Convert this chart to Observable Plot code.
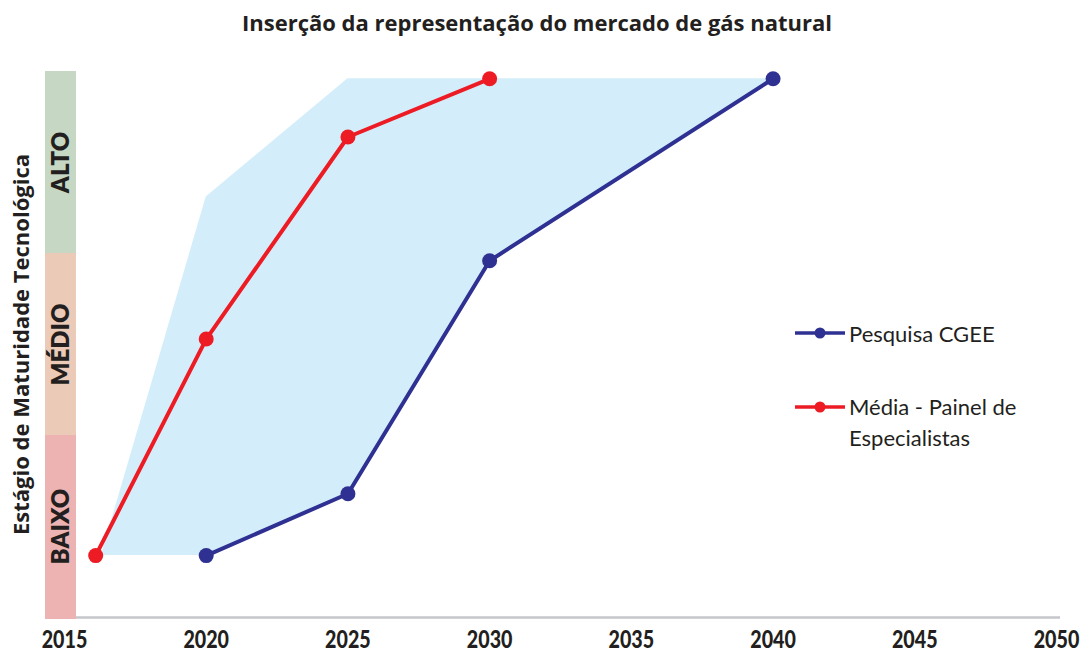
<!DOCTYPE html>
<html><head><meta charset="utf-8">
<script src="https://cdn.jsdelivr.net/npm/d3@7"></script>
<script src="https://cdn.jsdelivr.net/npm/@observablehq/plot@0.6"></script>
<style>
body{margin:0;background:#fff;}
#wrap{position:relative;width:1089px;height:652px;overflow:hidden;background:#fff;}
#title{position:absolute;left:0;top:0;width:1074px;height:44px;text-align:center;font:700 22px 'Open Sans';line-height:44px;color:#231f20;}
#chart{position:absolute;left:0;top:44px;}
.leg{position:absolute;left:795px;display:flex;align-items:flex-start;font:400 22px Lato;line-height:31px;color:#231f20;}
.leg svg{flex:none;margin-right:4px;}
</style></head><body>
<div id="wrap">
<div id="title">Inserção da representação do mercado de gás natural</div>
<div id="chart"></div>
</div>
<script>
// ---- data ----
const tickYears = [2015, 2020, 2025, 2030, 2035, 2040, 2045, 2050];
const bandNames = ["BAIXO", "MÉDIO", "ALTO"];
const bandLow = [0, 1, 2];
const bandHigh = [1, 2, 3];
const bandColors = ["#ecb3b2", "#ebcbb8", "#c6d8c4"];

const seriesNames = ["Pesquisa CGEE", "Média - Painel de Especialistas"];
const seriesColors = ["#2e3192", "#ed1c24"];

const blueYears = [2020, 2025, 2030, 2040];
const blueLevels = [0.34, 0.68, 1.96, 2.96];
const redYears = [2016.1, 2020, 2025, 2030];
const redLevels = [0.34, 1.53, 2.64, 2.96];

const areaYears = [2016.3, 2020, 2025, 2030, 2040];
const areaLow = [0.34, 0.34, 0.68, 1.96, 2.96];
const areaHigh = [0.34, 2.31, 2.96, 2.96, 2.96];

const yLabel = "Estágio de Maturidade Tecnológica";

// ---- tables ----
const bands = bandNames.map((n, i) => ({name: n, lo: bandLow[i], hi: bandHigh[i], mid: (bandLow[i] + bandHigh[i]) / 2, color: bandColors[i]}));
const blue = blueYears.map((x, i) => ({x, y: blueLevels[i]}));
const red = redYears.map((x, i) => ({x, y: redLevels[i]}));
const area = areaYears.map((x, i) => ({x, lo: areaLow[i], hi: areaHigh[i]}));
const x0 = tickYears[0];

const chart = Plot.plot({
  width: 1089,
  height: 608,
  marginLeft: 64,
  marginRight: 33,
  marginTop: 27,
  marginBottom: 35,
  x: {domain: [tickYears[0], tickYears[tickYears.length - 1]]},
  y: {domain: [0, 3], axis: null},
  style: {fontFamily: "Lato", background: "#fff", overflow: "visible"},
  marks: [
    Plot.areaY(area, {x: "x", y1: "lo", y2: "hi", fill: "#d3eefa"}),
    Plot.ruleY([0], {stroke: "#c5c6ca", strokeWidth: 2.5, insetRight: -4}),
    Plot.rect(bands.slice(0, 1), {x1: () => x0, x2: () => x0, y1: "lo", y2: "hi", fill: "color", insetLeft: -19, insetRight: -12, insetBottom: -2}),
    Plot.rect(bands.slice(1), {x1: () => x0, x2: () => x0, y1: "lo", y2: "hi", fill: "color", insetLeft: -19, insetRight: -12}),
    Plot.text(bands, {y: "mid", text: "name", frameAnchor: "left", textAnchor: "middle", dx: -3.5, rotate: -90, fontSize: 24, fontWeight: 800, fill: "#231f20"}),
    Plot.text([yLabel], {frameAnchor: "left", textAnchor: "middle", dx: -43, rotate: -90, fontSize: 22, fontWeight: 700, fontFamily: "'Open Sans'", fill: "#231f20"}),
    Plot.line(blue, {x: "x", y: "y", stroke: seriesColors[0], strokeWidth: 4}),
    Plot.dot(blue, {x: "x", y: "y", r: 7.5, fill: seriesColors[0]}),
    Plot.line(red, {x: "x", y: "y", stroke: seriesColors[1], strokeWidth: 4}),
    Plot.dot(red, {x: "x", y: "y", r: 7.5, fill: seriesColors[1]}),
    Plot.axisX({ticks: tickYears, tickSize: 0, tickPadding: 13, tickFormat: d => String(d), fontSize: 24, fontWeight: 900, fill: "#231f20", label: null})
  ]
});
// condense tick labels horizontally (reference uses a condensed face)
d3.select(chart).selectAll('g[aria-label="x-axis tick label"] text')
  .attr("transform", function() { return (this.getAttribute("transform") || "") + " scale(0.82,1)"; });
document.getElementById("chart").appendChild(chart);

// ---- legend ----
const legendTops = [318, 391];
const legendLines = [15, 16];
const legendText = [["Pesquisa CGEE"], ["Média - Painel de", "Especialistas"]];
const wrap = document.getElementById("wrap");
seriesNames.forEach((name, i) => {
  const d = document.createElement("div");
  d.className = "leg";
  d.style.top = legendTops[i] + "px";
  const ly = legendLines[i];
  d.innerHTML = `<svg width="50" height="32"><line x1="0" x2="50" y1="${ly}" y2="${ly}" stroke="${seriesColors[i]}" stroke-width="3.5"/><circle cx="25" cy="${ly}" r="5.5" fill="${seriesColors[i]}"/></svg><span>${legendText[i].join("<br>")}</span>`;
  wrap.appendChild(d);
});
</script>
</body></html>
